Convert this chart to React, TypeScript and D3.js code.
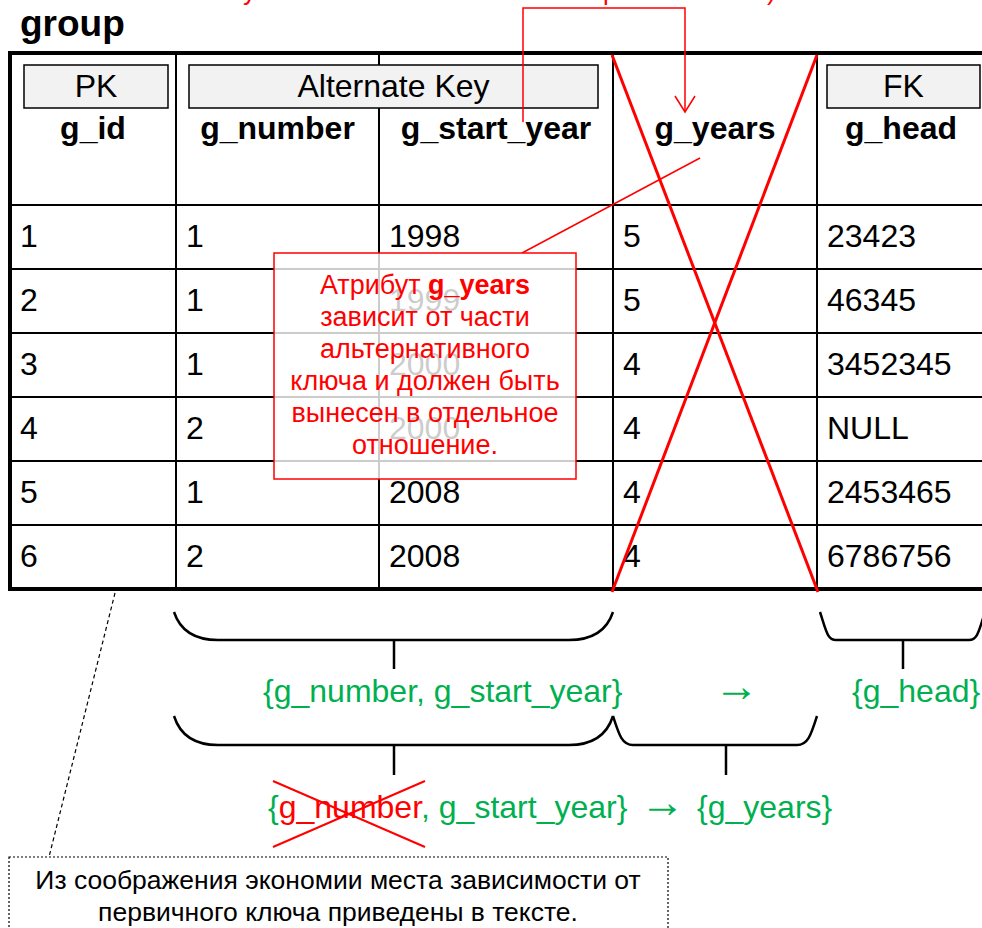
import React from "react";
import * as d3 from "d3";

// table data
const columns = ["g_id", "g_number", "g_start_year", "g_years", "g_head"];
const ids = ["1", "2", "3", "4", "5", "6"];
const numbers = ["1", "1", "1", "2", "1", "2"];
const startYears = ["1998", "1999", "2000", "2000", "2008", "2008"];
const years = ["5", "5", "4", "4", "4", "4"];
const heads = ["23423", "46345", "3452345", "NULL", "2453465", "6786756"];
const keyLabels = ["PK", "Alternate Key", "FK"];
const noteLines = [
  "Атрибут ",
  "зависит от части",
  "альтернативного",
  "ключа и должен быть",
  "вынесен в отдельное",
  "отношение.",
];
const footLines = [
  "Из соображения экономии места зависимости от",
  "первичного ключа приведены в тексте.",
];

const W = 982;
const H = 928;
const FONT = "'Liberation Sans', Arial, sans-serif";
const RED = "#ff0000";
const GREEN = "#00b050";

// layout
const colEdges = [10, 176, 379, 613, 817, 990];
const tableTop = 53;
const headerBottom = 205;
const tableBottom = 589;

const brace = (x0: number, x1: number, y0: number, depth: number, r: number) => {
  const p = d3.path();
  const y1 = y0 + depth;
  p.moveTo(x0, y0);
  p.bezierCurveTo(x0 + 6, y0 + depth * 0.65, x0 + r * 0.45, y1, x0 + r, y1);
  p.lineTo(x1 - r, y1);
  p.bezierCurveTo(x1 - r * 0.45, y1, x1 - 6, y0 + depth * 0.65, x1, y0);
  return p.toString();
};

export default function App() {
  const rows = d3.range(ids.length);
  const y = d3.scaleBand<number>().domain(rows).range([headerBottom, tableBottom]);
  const colLeft = (i: number) => colEdges[i];
  const colMid = (i: number) => (colEdges[i] + Math.min(colEdges[i + 1], 985)) / 2;
  const cells = [ids, numbers, startYears, years, heads];

  const keyBoxes = [
    { label: keyLabels[0], x0: 24, x1: 168 },
    { label: keyLabels[1], x0: 189, x1: 598 },
    { label: keyLabels[2], x0: 827, x1: 980 },
  ];

  const arrow = d3.path();
  arrow.moveTo(523, 122);
  arrow.lineTo(523, 8);
  arrow.lineTo(685, 8);
  arrow.lineTo(685, 111);

  return (
    <svg
      width={W}
      height={H}
      style={{ position: "absolute", left: 0, top: 0, background: "#fff" }}
      fontFamily={FONT}
    >
      {/* caption above, only its descenders are visible */}
      <text y={0} fontSize={26} fill={RED}>
        <tspan x={243}>у</tspan>
        <tspan x={603}>р</tspan>
        <tspan x={767}>)</tspan>
      </text>

      <text x={20} y={36} fontSize={37} fontWeight="bold">
        group
      </text>

      {/* grid */}
      {rows.slice(1).map((r) => (
        <line key={r} x1={10} x2={990} y1={y(r)} y2={y(r)} stroke="#000" strokeWidth={2} />
      ))}
      <line x1={10} x2={990} y1={headerBottom} y2={headerBottom} stroke="#000" strokeWidth={2} />
      {colEdges.slice(1, 5).map((x) => (
        <line key={x} x1={x} x2={x} y1={tableTop} y2={tableBottom} stroke="#000" strokeWidth={2} />
      ))}
      <rect
        x={10}
        y={tableTop}
        width={980}
        height={tableBottom - tableTop}
        fill="none"
        stroke="#000"
        strokeWidth={4}
      />

      {/* key boxes */}
      {keyBoxes.map((b) => (
        <g key={b.label}>
          <rect x={b.x0} y={65} width={b.x1 - b.x0} height={43} fill="#f2f2f2" stroke="#000" strokeWidth={1.5} />
          <text x={(b.x0 + b.x1) / 2} y={97} fontSize={32} textAnchor="middle">
            {b.label}
          </text>
        </g>
      ))}

      {columns.map((c, i) => (
        <text key={c} x={colMid(i)} y={139} fontSize={32} fontWeight="bold" textAnchor="middle">
          {c}
        </text>
      ))}

      {cells.map((col, ci) =>
        col.map((v, ri) => (
          <text key={ci + "-" + ri} x={colLeft(ci) + 10} y={(y(ri) ?? 0) + 42} fontSize={32}>
            {v}
          </text>
        ))
      )}

      {/* red connector and cross */}
      <path d={arrow.toString()} fill="none" stroke={RED} strokeWidth={1.5} />
      <polyline points="675,96 685,112 695,96" fill="none" stroke={RED} strokeWidth={1.5} />
      <line x1={612} y1={55} x2={818} y2={592} stroke={RED} strokeWidth={3} />
      <line x1={817} y1={55} x2={612} y2={592} stroke={RED} strokeWidth={3} />
      <line x1={522} y1={253} x2={700} y2={158} stroke={RED} strokeWidth={1.5} />

      {/* note box */}
      <rect x={274} y={253} width={302} height={226} fill="#fff" fillOpacity={0.8} stroke={RED} strokeWidth={1.5} />
      {noteLines.map((t, i) => (
        <text key={i} x={425} y={294 + i * 32} fontSize={27} fill={RED} textAnchor="middle">
          {t}
          {i === 0 && <tspan fontWeight="bold">g_years</tspan>}
        </text>
      ))}

      {/* braces */}
      <g fill="none" stroke="#000" strokeWidth={2.5}>
        <path d={brace(174, 613, 612, 28, 44)} />
        <path d={brace(820, 985, 612, 28, 16)} />
        <path d={brace(174, 613, 716, 29, 44)} />
        <path d={brace(613, 817, 716, 29, 20)} />
        <line x1={394} x2={394} y1={640} y2={669} />
        <line x1={903} x2={903} y1={640} y2={669} />
        <line x1={394} x2={394} y1={745} y2={775} />
        <line x1={726} x2={726} y1={745} y2={775} />
      </g>

      <g fontSize={32} fill={GREEN}>
        <text x={263} y={702}>{"{g_number, g_start_year}"}</text>
        <text x={714} y={701} fontSize={45}>→</text>
        <text x={852} y={702}>{"{g_head}"}</text>
        <text x={268} y={818}>
          {"{"}
          <tspan fill={RED}>g_number</tspan>
          {", g_start_year}"}
        </text>
        <text x={640} y={817} fontSize={45}>→</text>
        <text x={697} y={818}>{"{g_years}"}</text>
      </g>
      <line x1={273} y1={781} x2={425} y2={847} stroke={RED} strokeWidth={2} />
      <line x1={273} y1={847} x2={425} y2={781} stroke={RED} strokeWidth={2} />

      {/* footnote */}
      <line x1={115} y1={593} x2={49} y2={857} stroke="#000" strokeWidth={1.2} strokeDasharray="4,3" />
      <rect x={9} y={857} width={659} height={100} fill="none" stroke="#000" strokeWidth={1.2} strokeDasharray="2,2" />
      {footLines.map((t, i) => (
        <text key={i} x={338} y={889 + i * 32} fontSize={26.5} textAnchor="middle">
          {t}
        </text>
      ))}
    </svg>
  );
}
